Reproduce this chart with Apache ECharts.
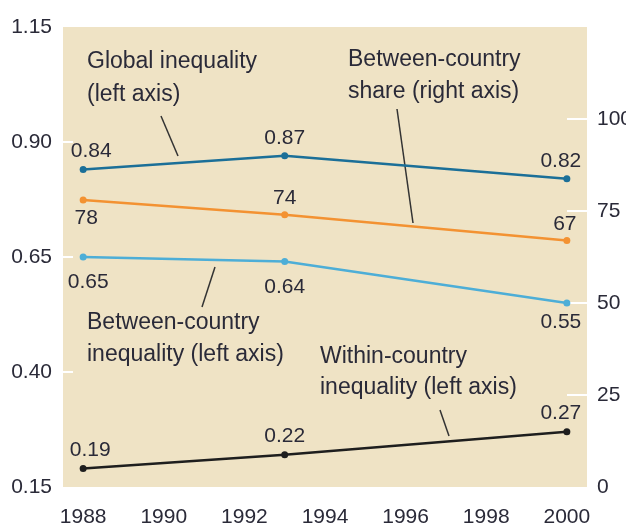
<!DOCTYPE html>
<html>
<head>
<meta charset="utf-8">
<script src="https://cdn.jsdelivr.net/npm/echarts@6/dist/echarts.min.js"></script>
<style>
  html, body { margin: 0; padding: 0; background: #fff; }
  #chart { width: 626px; height: 532px; }
</style>
</head>
<body>
<div id="chart"></div>
<script>
// 数据
var years = [1988, 1993, 2000];
var yearTicks = [1988, 1990, 1992, 1994, 1996, 1998, 2000];
var globalIneq = [0.84, 0.87, 0.82];
var betweenIneq = [0.65, 0.64, 0.55];
var withinIneq = [0.19, 0.22, 0.27];
var betweenShare = [78, 74, 67];
var leftTicks = [0.15, 0.40, 0.65, 0.90, 1.15];
var rightTicks = [0, 25, 50, 75, 100];

var FONT = '"Liberation Sans", Arial, sans-serif';
var TXT = '#2a2a38';

// 每个点的标签位置 [position, distance, offsetX]
function makeData(vals, place) {
  return vals.map(function (v, i) {
    var p = place[i];
    return {
      value: [years[i], v],
      label: { position: p[0], distance: p[1], offset: [p[2], 0] }
    };
  });
}

function lineSeries(name, vals, color, yIndex, place) {
  return {
    name: name,
    type: 'line',
    yAxisIndex: yIndex,
    data: makeData(vals, place),
    symbol: 'circle',
    symbolSize: 7,
    lineStyle: { color: color, width: 2.5 },
    itemStyle: { color: color },
    label: {
      show: true,
      color: TXT,
      fontFamily: FONT,
      fontSize: 21,
      formatter: function (p) {
        return yIndex === 1 ? String(p.value[1]) : p.value[1].toFixed(2);
      }
    },
    animation: false
  };
}

var chart = echarts.init(document.getElementById('chart'));

function note(text, x, y) {
  return {
    type: 'text',
    style: { text: text, x: x, y: y, font: '23px ' + FONT, fill: TXT, verticalAlign: 'middle' }
  };
}
function leader(x1, y1, x2, y2) {
  return {
    type: 'line',
    shape: { x1: x1, y1: y1, x2: x2, y2: y2 },
    style: { stroke: '#333', lineWidth: 1.5 }
  };
}

chart.setOption({
  backgroundColor: '#fff',
  grid: {
    left: 63, right: 39, top: 27, bottom: 45,
    outerBoundsMode: 'none',
    containLabel: false,
    show: true, backgroundColor: '#efe3c5', borderWidth: 0
  },
  xAxis: {
    type: 'value',
    min: 1987.5,
    max: 2000.5,
    splitLine: { show: false },
    axisLine: { show: false },
    axisTick: { show: false },
    axisLabel: {
      customValues: yearTicks,
      color: TXT, fontFamily: FONT, fontSize: 21, margin: 20,
      formatter: function (v) { return String(v); }
    }
  },
  yAxis: [
    {
      type: 'value',
      min: 0.15, max: 1.15, interval: 0.25,
      splitLine: { show: false },
      axisLine: { show: false },
      axisTick: {
        show: true, inside: true, length: 10,
        customValues: [0.40, 0.65, 0.90],
        lineStyle: { color: '#fff', width: 2 }
      },
      axisLabel: {
        customValues: leftTicks,
        color: TXT, fontFamily: FONT, fontSize: 21, margin: 11,
        formatter: function (v) { return v.toFixed(2); }
      }
    },
    {
      type: 'value',
      min: 0, max: 125, interval: 25,
      position: 'right',
      splitLine: { show: false },
      axisLine: { show: false },
      axisTick: {
        show: true, inside: true, length: 20,
        customValues: [25, 50, 75, 100],
        lineStyle: { color: '#fff', width: 2 }
      },
      axisLabel: {
        customValues: rightTicks,
        color: TXT, fontFamily: FONT, fontSize: 21, margin: 10
      }
    }
  ],
  series: [
    lineSeries('Global inequality', globalIneq, '#1b6f98', 0,
      [['top', 4, 8], ['top', 4, 0], ['top', 4, -6]]),
    lineSeries('Between-country share', betweenShare, '#f39232', 1,
      [['bottom', 4, 3], ['top', 2, 0], ['top', 2, -2]]),
    lineSeries('Between-country inequality', betweenIneq, '#4daed7', 0,
      [['bottom', 11, 5], ['bottom', 12, 0], ['bottom', 5, -6]]),
    lineSeries('Within-country inequality', withinIneq, '#1e1e1e', 0,
      [['top', 4, 7], ['top', 5, 0], ['top', 5, -6]])
  ],
  graphic: [
    note('Global inequality', 87, 62),
    note('(left axis)', 87, 95),
    leader(161, 116, 178, 156),
    note('Between-country', 348, 60),
    note('share (right axis)', 348, 92),
    leader(397, 109, 413, 223),
    note('Between-country', 87, 323),
    note('inequality (left axis)', 87, 355),
    leader(215, 267, 202, 307),
    note('Within-country', 320, 357),
    note('inequality (left axis)', 320, 388),
    leader(440, 410, 449, 436)
  ]
});
</script>
</body>
</html>
